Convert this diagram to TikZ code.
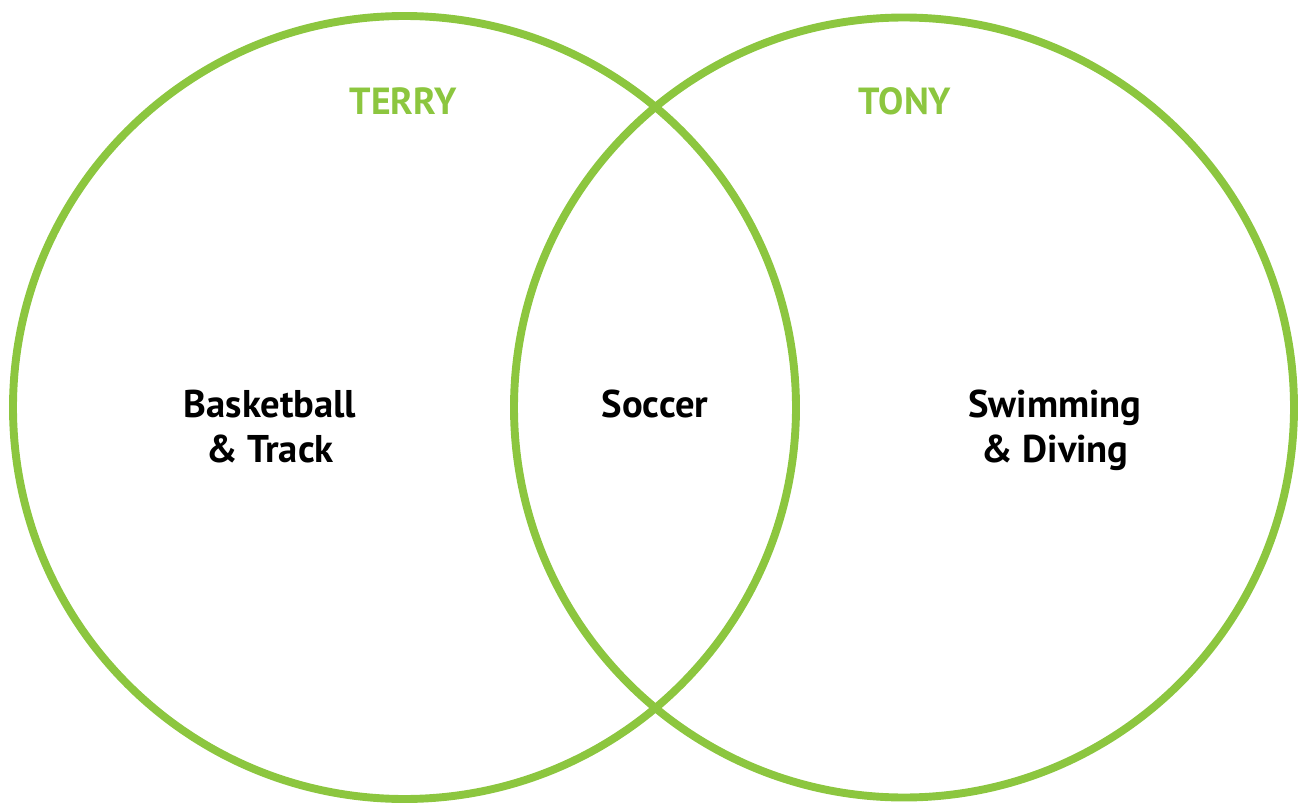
\documentclass[tikz,border=0pt]{standalone}
\usepackage{fontspec}
\setmainfont{PT Sans}
\usetikzlibrary{positioning}
\definecolor{setgreen}{HTML}{8CC63F}

\begin{document}
\begin{tikzpicture}[x=0.02cm,y=-0.02cm,
	setline/.style={draw=setgreen,line width=4.5pt},
	setname/.style={text=setgreen,font=\bfseries\fontsize{21.5}{25}\selectfont},
	sport/.style={align=center,text depth=0pt,font=\bfseries\fontsize{22}{25.5}\selectfont}
	]
	\useasboundingbox (0,0) rectangle (1301,804);

	\coordinate (lc) at (404.5,407.5);
	\coordinate (rc) at (904,407.5);

	\draw[setline] (lc) circle[radius=391.5*0.02cm];
	\draw[setline] (rc) circle[radius=390*0.02cm];

	\node[setname] (terry) at (403,101) {TERRY};
	\node[setname] (tony) at (905,101) {TONY};

	\node[sport] (left) at (270,426) {Basketball\\\& Track};
	\node[sport] (mid) at (655,404) {Soccer};
	\node[sport] (right) at (1055,426) {Swimming\\\& Diving};

\end{tikzpicture}
\end{document}
